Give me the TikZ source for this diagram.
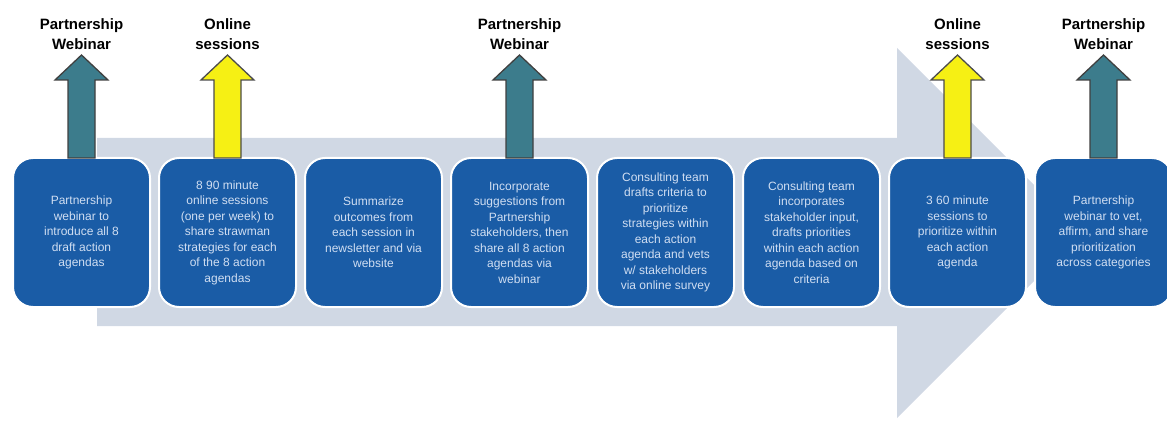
\documentclass[tikz,border=0pt]{standalone}
\usepackage{fontspec}
\setmainfont{Liberation Sans}
\usepackage{xcolor}
\usepackage{tikz}
\usetikzlibrary{positioning}

\definecolor{flowgray}{RGB}{208,216,228}
\definecolor{stepblue}{RGB}{26,92,166}
\definecolor{steptext}{RGB}{208,222,242}
\definecolor{webteal}{RGB}{60,124,140}
\definecolor{sessyellow}{RGB}{246,240,20}

\begin{document}
\begin{tikzpicture}[x=1pt, y=1pt, node distance=9pt,
    stepbox/.style={draw=white, line width=2pt, fill=stepblue, rounded corners=20pt, outer sep=0pt,
        minimum width=137pt, minimum height=149pt, align=center, text=steptext,
        font={\fontsize{12}{15.5}\selectfont}},
    tag/.style={align=center, inner sep=0pt, font={\fontsize{15}{20}\selectfont\bfseries}},
    webarrow/.style={fill=webteal, draw=black!75, line width=1.3pt, line join=miter},
    sessarrow/.style={fill=sessyellow, draw=black!70, line width=1.3pt, line join=miter}]
    \useasboundingbox (0,0) rectangle (1167,421);

    % Big flow arrow behind the steps
    \fill[flowgray] (97,95) -- (97,283) -- (897,283) -- (897,373) -- (1082,188) -- (897,3) -- (897,95) -- cycle;

    % Steps
    \node (s1) [stepbox] at (81.5,188.5) {Partnership\\webinar to\\introduce all 8\\draft action\\agendas};
    \node (s2) [stepbox, right=of s1] {8 90 minute\\online sessions\\(one per week) to\\share strawman\\strategies for each\\of the 8 action\\agendas};
    \node (s3) [stepbox, right=of s2] {Summarize\\outcomes from\\each session in\\newsletter and via\\website};
    \node (s4) [stepbox, right=of s3] {Incorporate\\suggestions from\\Partnership\\stakeholders, then\\share all 8 action\\agendas via\\webinar};
    \node (s5) [stepbox, right=of s4] {Consulting team\\drafts criteria to\\prioritize\\strategies within\\each action\\agenda and vets\\w/ stakeholders\\via online survey};
    \node (s6) [stepbox, right=of s5] {Consulting team\\incorporates\\stakeholder input,\\drafts priorities\\within each action\\agenda based on\\criteria};
    \node (s7) [stepbox, right=of s6] {3 60 minute\\sessions to\\prioritize within\\each action\\agenda};
    \node (s8) [stepbox, right=of s7] {Partnership\\webinar to vet,\\affirm, and share\\prioritization\\across categories};

    % Up arrows
    \draw[webarrow] ([xshift=-13.5pt]s1.north) -- ++(0,78) -- ++(-13,0) -- ++(26.5,25) -- ++(26.5,-25) -- ++(-13,0) -- ++(0,-78) -- cycle;
    \draw[sessarrow] ([xshift=-13.5pt]s2.north) -- ++(0,78) -- ++(-13,0) -- ++(26.5,25) -- ++(26.5,-25) -- ++(-13,0) -- ++(0,-78) -- cycle;
    \draw[webarrow] ([xshift=-13.5pt]s4.north) -- ++(0,78) -- ++(-13,0) -- ++(26.5,25) -- ++(26.5,-25) -- ++(-13,0) -- ++(0,-78) -- cycle;
    \draw[sessarrow] ([xshift=-13.5pt]s7.north) -- ++(0,78) -- ++(-13,0) -- ++(26.5,25) -- ++(26.5,-25) -- ++(-13,0) -- ++(0,-78) -- cycle;
    \draw[webarrow] ([xshift=-13.5pt]s8.north) -- ++(0,78) -- ++(-13,0) -- ++(26.5,25) -- ++(26.5,-25) -- ++(-13,0) -- ++(0,-78) -- cycle;

    % Labels
    \node (t1) [tag, above=108pt of s1.north] {Partnership\\Webinar};
    \node (t2) [tag, above=108pt of s2.north] {Online\\sessions};
    \node (t4) [tag, above=108pt of s4.north] {Partnership\\Webinar};
    \node (t7) [tag, above=108pt of s7.north] {Online\\sessions};
    \node (t8) [tag, above=108pt of s8.north] {Partnership\\Webinar};
\end{tikzpicture}
\end{document}
